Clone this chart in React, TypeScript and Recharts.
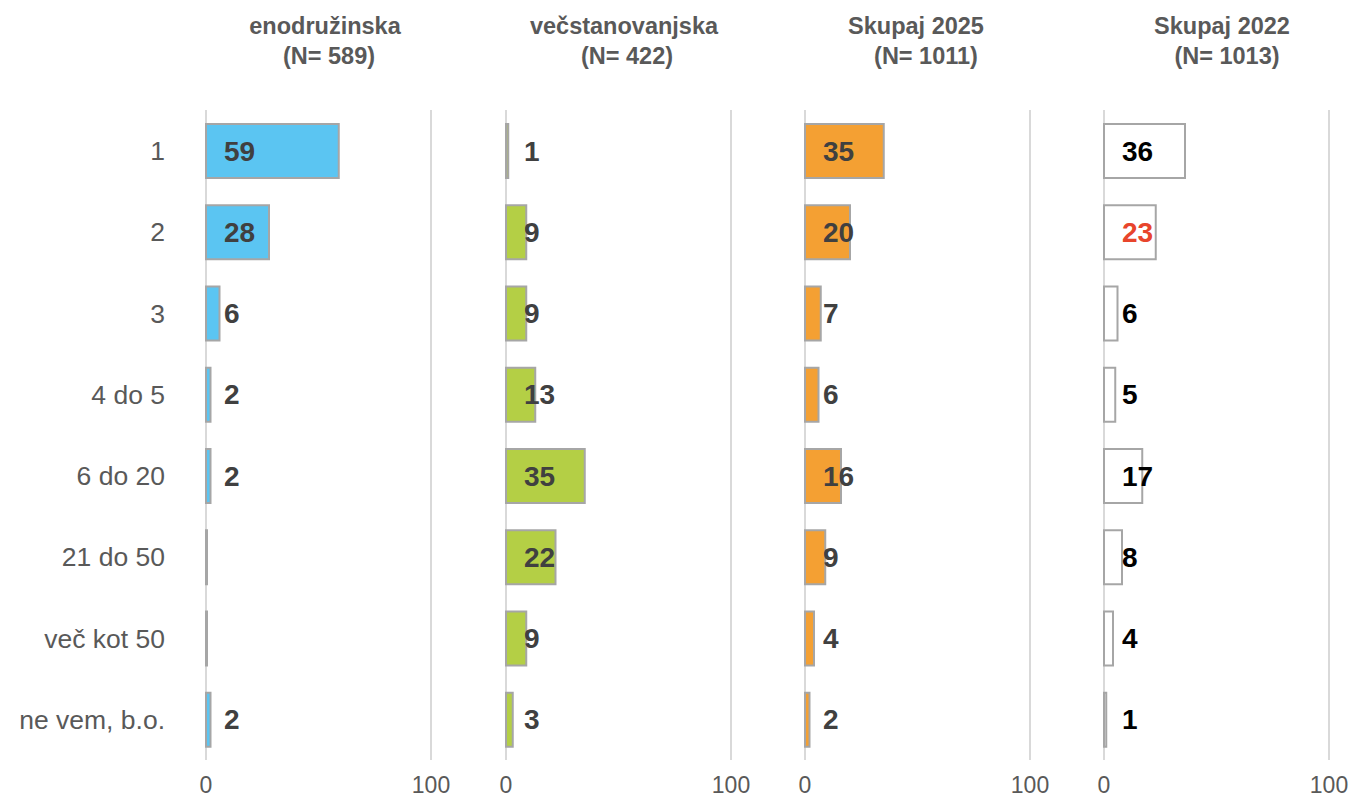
import React from 'react'
import { BarChart, Bar, XAxis, YAxis, CartesianGrid, LabelList } from 'recharts'

const categories = ['1', '2', '3', '4 do 5', '6 do 20', '21 do 50', 'več kot 50', 'ne vem, b.o.']

const enodruzinska = [59, 28, 6, 2, 2, 0, 0, 2]
const vecstanovanjska = [1, 9, 9, 13, 35, 22, 9, 3]
const skupaj2025 = [35, 20, 7, 6, 16, 9, 4, 2]
const skupaj2022 = [36, 23, 6, 5, 17, 8, 4, 1]

// categories whose 2022 value is drawn in red
const highlighted2022 = ['2']

const xTicks = [0, 100]

const panels = [
    { key: 'p1', title: 'enodružinska', sub: '(N= 589)', values: enodruzinska, fill: '#5bc5f2', text: '#404040' },
    { key: 'p2', title: 'večstanovanjska', sub: '(N= 422)', values: vecstanovanjska, fill: '#b4cf45', text: '#404040' },
    { key: 'p3', title: 'Skupaj 2025', sub: '(N= 1011)', values: skupaj2025, fill: '#f4a033', text: '#404040' },
    { key: 'p4', title: 'Skupaj 2022', sub: '(N= 1013)', values: skupaj2022, fill: '#ffffff', text: '#000000' },
]

const plotLeft = [206, 506, 805, 1104]
const titleCenters = [[325, 329], [624, 627], [916, 926], [1222, 1227]]
const PLOT_W = 225
const PLOT_TOP = 110
const H = 797
const X_AXIS_H = 37

function makeLabel(color: string, values: number[], redCats: string[]) {
    return (props: any) => {
        const { x, y, height, index } = props
        const v = values[index]
        if (!v) return null
        const red = redCats.includes(categories[index])
        return (
            <text
                x={Number(x) + 18}
                y={Number(y) + Number(height) / 2}
                dominantBaseline="central"
                fontSize={28}
                fontWeight="bold"
                fill={red ? '#e8452c' : color}
            >
                {v}
            </text>
        )
    }
}

function Panel({ i }: { i: number }) {
    const p = panels[i]
    const first = i === 0
    const padL = first ? 0 : 30
    const yW = first ? plotLeft[0] : 0
    const width = yW + padL + PLOT_W + 30
    const left = first ? 0 : plotLeft[i] - padL
    const data = categories.map((c, k) => ({ cat: c, v: p.values[k] }))

    return (
        <div style={{ position: 'absolute', left, top: 0 }}>
            <BarChart
                width={width}
                height={H}
                data={data}
                layout="vertical"
                margin={{ top: PLOT_TOP, right: 30, bottom: 0, left: padL }}
            >
                <CartesianGrid horizontal={false} stroke="#d9d9d9" strokeWidth={2} />
                <XAxis
                    type="number"
                    domain={[0, 100]}
                    ticks={xTicks}
                    axisLine={false}
                    tickLine={false}
                    tickSize={0}
                    tickMargin={17}
                    height={X_AXIS_H}
                    tick={{ fill: '#595959', fontSize: 23 }}
                    interval={0}
                />
                <YAxis
                    type="category"
                    dataKey="cat"
                    hide={!first}
                    width={yW}
                    axisLine={false}
                    tickLine={false}
                    tickSize={0}
                    tickMargin={41}
                    tick={{ fill: '#595959', fontSize: 26.5 }}
                    interval={0}
                />
                <Bar
                    dataKey="v"
                    fill={p.fill}
                    stroke="#a6a6a6"
                    strokeWidth={2}
                    barSize={54}
                    minPointSize={1}
                    isAnimationActive={false}
                >
                    <LabelList
                        dataKey="v"
                        content={makeLabel(p.text, p.values, i === 3 ? highlighted2022 : [])}
                    />
                </Bar>
            </BarChart>
        </div>
    )
}

export default function App() {
    return (
        <div
            style={{
                position: 'absolute',
                left: 0,
                top: 0,
                width: 1352,
                height: H,
                background: '#fff',
                fontFamily: '"Liberation Sans", Arial, sans-serif',
                overflow: 'hidden',
            }}
        >
            {panels.map((p, i) => (
                <React.Fragment key={p.key}>
                    {[p.title, p.sub].map((line, j) => (
                        <div
                            key={j}
                            style={{
                                position: 'absolute',
                                left: titleCenters[i][j] - 150,
                                width: 300,
                                top: 11 + j * 30,
                                lineHeight: '30px',
                                textAlign: 'center',
                                fontSize: 23.5,
                                fontWeight: 'bold',
                                color: '#595959',
                            }}
                        >
                            {line}
                        </div>
                    ))}
                    <Panel i={i} />
                </React.Fragment>
            ))}
        </div>
    )
}
